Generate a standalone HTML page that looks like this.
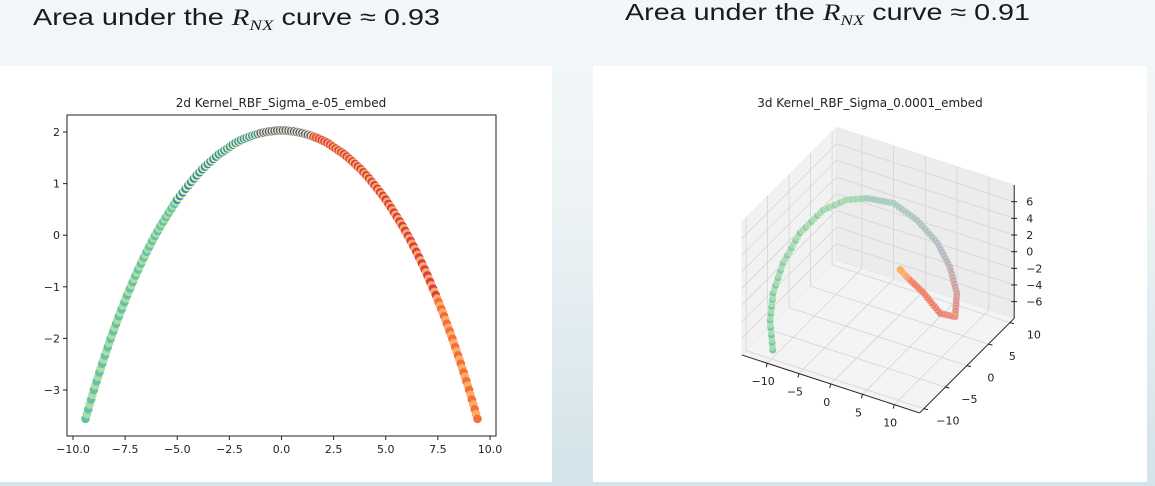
<!DOCTYPE html>
<html><head><meta charset="utf-8">
<style>
html,body{margin:0;padding:0;}
body{width:1155px;height:486px;overflow:hidden;background:linear-gradient(180deg,#f3f7f9 0%,#eef3f5 40%,#d2e3e9 100%);font-family:"Liberation Sans",sans-serif;}
svg{position:absolute;left:0;top:0;}
.mpl{font-family:"DejaVu Sans",sans-serif;}
</style></head>
<body>
<svg id="s" width="1155" height="486" viewBox="0 0 1155 486">
  <text x="33" y="25" font-size="23" fill="#1a1a1a" textLength="407" lengthAdjust="spacingAndGlyphs">Area under the <tspan font-family="Liberation Serif" font-style="italic">R</tspan><tspan font-family="Liberation Serif" font-style="italic" font-size="15" dy="5">NX</tspan><tspan dy="-5"> curve ≈ 0.93</tspan></text>
  <text x="625" y="20" font-size="23" fill="#1a1a1a" textLength="405" lengthAdjust="spacingAndGlyphs">Area under the <tspan font-family="Liberation Serif" font-style="italic">R</tspan><tspan font-family="Liberation Serif" font-style="italic" font-size="15" dy="5">NX</tspan><tspan dy="-5"> curve ≈ 0.91</tspan></text>
  <rect x="0" y="66" width="552" height="416" fill="#fff"/>
  <rect x="593" y="66" width="554" height="416" fill="#fff"/>
  <text class="mpl" x="281" y="107" font-size="12" text-anchor="middle" fill="#222">2d Kernel_RBF_Sigma_e-05_embed</text>
  <text class="mpl" x="870" y="107" font-size="12" text-anchor="middle" fill="#222">3d Kernel_RBF_Sigma_0.0001_embed</text>
  <g id="g2d" class="mpl"></g>
  <g id="g3d" class="mpl"></g>
</svg>
<script>
// ---------- 2D data ----------
const xs2d = [-9.4,-9.0,-8.6,-8.2,-7.8,-7.4,-7.0,-6.6,-6.2,-5.8,-5.4,-5.0,-4.6,-4.2,-3.8,-3.4,-3.0,-2.6,-2.2,-1.8,-1.4,-1.0,-0.6,-0.2,0.2,0.6,1.0,1.4,1.8,2.2,2.6,3.0,3.4,3.8,4.2,4.6,5.0,5.4,5.8,6.2,6.6,7.0,7.4,7.8,8.2,8.6,9.0,9.4];
const ys2d = [-3.56,-3.00,-2.49,-2.01,-1.57,-1.16,-0.78,-0.43,-0.11,0.18,0.44,0.69,0.90,1.10,1.28,1.43,1.57,1.68,1.79,1.87,1.93,1.98,2.01,2.03,2.03,2.01,1.98,1.93,1.87,1.79,1.68,1.57,1.43,1.28,1.10,0.90,0.69,0.44,0.18,-0.11,-0.43,-0.78,-1.16,-1.57,-2.01,-2.49,-3.00,-3.56];
const xTicks2d = [-10,-7.5,-5,-2.5,0,2.5,5,7.5,10];
const xTickLabels2d = ["−10.0","−7.5","−5.0","−2.5","0.0","2.5","5.0","7.5","10.0"];
const yTicks2d = [2,1,0,-1,-2,-3];
const yTickLabels2d = ["2","1","0","−1","−2","−3"];

// ---------- 3D data ----------
const xs3d = [-9.8,-10.9,-11.1,-10.9,-9.6,-7.3,-4.9,-3.1,-0.3,2.1,4.6,5.9,7.0,7.4,6.4,5.1,3.9,3.5];
const ys3d = [-10,-9,-8,-6,-4,-2,0,2,4,6,7,8,8,7,5,3,1,0];
const zs3d = [-6.9,-4.1,-1.4,1.2,4.1,6.4,7.2,6.8,5.9,3.4,0.8,-2.3,-5.2,-7.4,-6.2,-3.0,-0.4,0.9];
const xTicks3d = [-10,-5,0,5,10];
const yTicks3d = [-10,-5,0,5,10];
const zTicks3d = [-6,-4,-2,0,2,4,6];
const xTickLabels3d = ["−10","−5","0","5","10"];
const yTickLabels3d = ["−10","−5","0","5","10"];
const zTickLabels3d = ["−6","−4","−2","0","2","4","6"];

const NS = "http://www.w3.org/2000/svg";
function mk(tag, attrs, parent){const e=document.createElementNS(NS,tag);for(const k in attrs)e.setAttribute(k,attrs[k]);parent.appendChild(e);return e;}

// ---------- 2D chart ----------
const g2 = document.getElementById('g2d');
const X = v => 73 + (v + 10) * 20.85;
const Y = v => 132 + (2 - v) * 51.6;
function col2d(x,i){
  if (x < -5) return i%2 ? "#abdda4" : "#66c2a5";
  if (x < -1) return i%2 ? "#e6f598" : "#3288bd";
  if (x < 1.5) return i%2 ? "#e6f598" : "#5e4fa2";
  if (x < 7.5) return i%2 ? "#fdae61" : "#d53e4f";
  return i%2 ? "#fdae61" : "#f46d43";
}
let k = 0;
for (let i = 0; i < xs2d.length - 1; i++) {
  const n = 6;
  for (let j = 0; j < n; j++) {
    const t = j / n;
    const x = xs2d[i] + (xs2d[i+1]-xs2d[i]) * t;
    const y = ys2d[i] + (ys2d[i+1]-ys2d[i]) * t;
    const c = mk('circle', {cx: X(x), cy: Y(y), r: 4.3, fill: col2d(x,k)}, g2);
    
    
    k++;
  }
}
{
  const i = xs2d.length - 1;
  const c = mk('circle', {cx: X(xs2d[i]), cy: Y(ys2d[i]), r: 4.3, fill: "#f46d43"}, g2);
  
  
}
const frame = mk('rect', {x: 67, y: 115, width: 429, height: 321, fill: "none", stroke: "#222", "stroke-width": 1}, g2);


xTicks2d.forEach((v, i) => {
  mk('line', {x1: X(v), x2: X(v), y1: 436, y2: 440, stroke: "#222"}, g2);
  const t = mk('text', {x: X(v), y: 453, "font-size": 11, "text-anchor": "middle", fill: "#222"}, g2);
  t.textContent = xTickLabels2d[i];
  
  
});
yTicks2d.forEach((v, i) => {
  mk('line', {x1: 63, x2: 67, y1: Y(v), y2: Y(v), stroke: "#222"}, g2);
  const t = mk('text', {x: 60, y: Y(v) + 4, "font-size": 11, "text-anchor": "end", fill: "#222"}, g2);
  t.textContent = yTickLabels2d[i];
  
  
});

// ---------- 3D chart ----------
const g3 = document.getElementById('g3d');
const XMIN=-14, XMAX=14, YMIN=-11, YMAX=11, ZMIN=-8, ZMAX=8;
function P(x,y,z){ return [878 + 6.35*x + 4.3*y, 270 + 2.07*x - 4.3*y - 8.33*z]; }
function poly(pts, attrs, name){
  const e = mk('polygon', Object.assign({points: pts.map(p=>p.join(',')).join(' ')}, attrs), g3);
  
  
}
function ln(a,b,attrs){ return mk('line', Object.assign({x1:a[0],y1:a[1],x2:b[0],y2:b[1]}, attrs), g3); }
const paneAttr = {fill: "#f2f2f2", stroke: "#e6e6e6", "stroke-width": 0.5};
poly([P(XMIN,YMIN,ZMIN),P(XMIN,YMAX,ZMIN),P(XMIN,YMAX,ZMAX),P(XMIN,YMIN,ZMAX)], paneAttr, 'left-pane');
poly([P(XMIN,YMAX,ZMIN),P(XMAX,YMAX,ZMIN),P(XMAX,YMAX,ZMAX),P(XMIN,YMAX,ZMAX)], {fill:"#ececec", stroke:"#e6e6e6","stroke-width":0.5}, 'back-pane');
poly([P(XMIN,YMIN,ZMIN),P(XMAX,YMIN,ZMIN),P(XMAX,YMAX,ZMIN),P(XMIN,YMAX,ZMIN)], {fill:"#f4f4f4", stroke:"#e6e6e6","stroke-width":0.5}, 'floor-pane');
const gridA = {stroke: "#d4d4d4", "stroke-width": 0.8};
xTicks3d.forEach(v => {
  ln(P(v,YMIN,ZMIN), P(v,YMAX,ZMIN), gridA);
  ln(P(v,YMAX,ZMIN), P(v,YMAX,ZMAX), gridA);
});
yTicks3d.forEach(v => {
  ln(P(XMIN,v,ZMIN), P(XMAX,v,ZMIN), gridA);
  ln(P(XMIN,v,ZMIN), P(XMIN,v,ZMAX), gridA);
});
zTicks3d.forEach(v => {
  ln(P(XMIN,YMIN,v), P(XMIN,YMAX,v), gridA);
  ln(P(XMIN,YMAX,v), P(XMAX,YMAX,v), gridA);
});
const axA = {stroke: "#222", "stroke-width": 1};
ln(P(XMIN,YMIN,ZMIN), P(XMAX,YMIN,ZMIN), axA);
ln(P(XMAX,YMIN,ZMIN), P(XMAX,YMAX,ZMIN), axA);
ln(P(XMAX,YMAX,ZMIN), P(XMAX,YMAX,ZMAX), axA);
xTicks3d.forEach((v,i) => {
  const a = P(v,YMIN,ZMIN);
  ln(a, [a[0]-1, a[1]+4], axA);
  const t = mk('text', {x: a[0]-4, y: a[1]+22, "font-size": 11, "text-anchor": "middle", fill: "#222"}, g3);
  t.textContent = xTickLabels3d[i];
  
  
});
yTicks3d.forEach((v,i) => {
  const a = P(XMAX,v,ZMIN);
  ln(a, [a[0]+4, a[1]+1], axA);
  const t = mk('text', {x: a[0]+24, y: a[1]+16, "font-size": 11, "text-anchor": "middle", fill: "#222"}, g3);
  t.textContent = yTickLabels3d[i];
  
  
});
zTicks3d.forEach((v,i) => {
  const a = P(XMAX,YMAX,v);
  ln([a[0]-3,a[1]], [a[0]+3, a[1]], axA);
  const t = mk('text', {x: a[0]+12, y: a[1]+4, "font-size": 11, "text-anchor": "start", fill: "#222"}, g3);
  t.textContent = zTickLabels3d[i];
  
  
});
const stops = [[0,[102,194,165]],[0.35,[150,205,180]],[0.5,[170,200,185]],[0.62,[180,185,195]],[0.78,[232,128,110]],[0.92,[240,120,90]],[1,[253,174,97]]];
function col3d(t,i){
  let a=stops[0], b=stops[stops.length-1];
  for (let s=0;s<stops.length-1;s++) if (t>=stops[s][0] && t<=stops[s+1][0]) {a=stops[s]; b=stops[s+1]; break;}
  const u = (t-a[0])/((b[0]-a[0])||1);
  let c = a[1].map((v,j)=>Math.round(v+(b[1][j]-v)*u));
  if (t < 0.4 && i%2) c = [171,221,164];
  return `rgb(${c[0]},${c[1]},${c[2]})`;
}
const N = xs3d.length;
const per = 8;
const total = (N-1)*per;
let idx = 0;
for (let i = 0; i < N-1; i++) {
  for (let j = 0; j < per; j++) {
    const u = j/per;
    const x = xs3d[i]+(xs3d[i+1]-xs3d[i])*u;
    const y = ys3d[i]+(ys3d[i+1]-ys3d[i])*u;
    const z = zs3d[i]+(zs3d[i+1]-zs3d[i])*u;
    const p = P(x,y,z);
    const c = mk('circle', {cx: p[0], cy: p[1], r: 3.6, fill: col3d(idx/total, idx), "fill-opacity": 0.85, stroke:"#ffffff", "stroke-width":0.4, "stroke-opacity":0.6}, g3);
    
    
    idx++;
  }
}
{
  const p = P(xs3d[N-1], ys3d[N-1], zs3d[N-1]);
  const c = mk('circle', {cx: p[0], cy: p[1], r: 3.6, fill: "#fdae61"}, g3);
  
  
}
</script>
</body></html>
